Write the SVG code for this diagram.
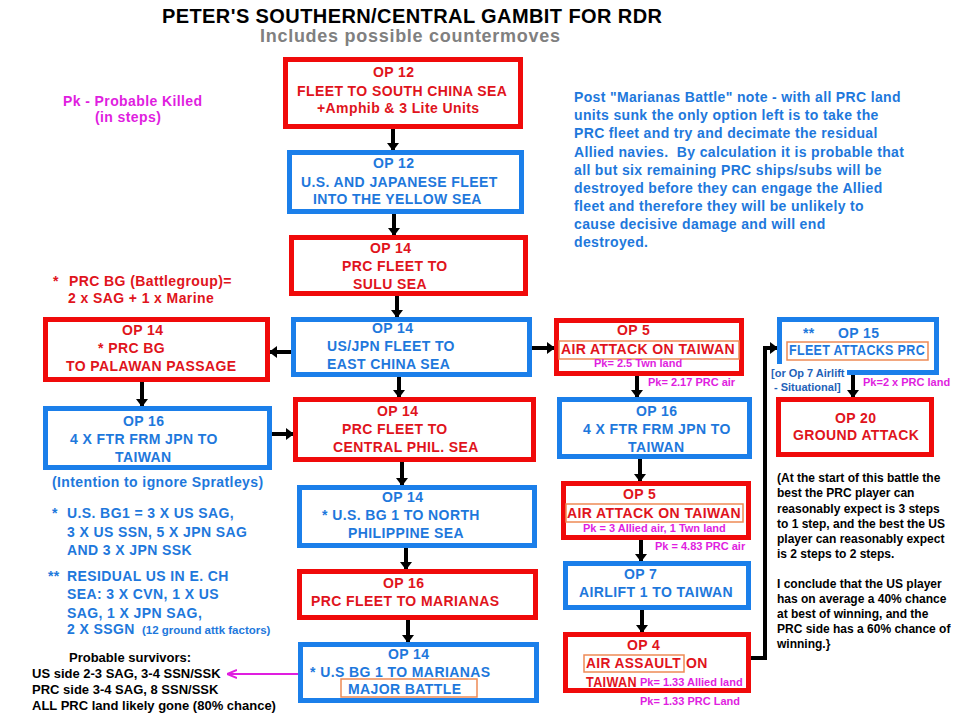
<svg xmlns="http://www.w3.org/2000/svg" width="962" height="724" viewBox="0 0 962 724">
<style>
text{font-family:"Liberation Sans",Arial,sans-serif;font-weight:bold}
.rb{fill:#fff;stroke:#f00a0a;stroke-width:5}
.bb{fill:#fff;stroke:#1b7fea;stroke-width:5}
.ob{fill:none;stroke:#ee8a55;stroke-width:1.5}
.r{fill:#e0141c;font-size:14px;letter-spacing:.4px}
.b{fill:#1e78dc;font-size:14px;letter-spacing:.4px}
.m{fill:#e01ee0;font-size:11px}
.k{fill:#000;font-size:12px}
.k13{fill:#000;font-size:13px}
.db{fill:#1f62b8;font-size:11px}
.bn{fill:#1e78dc;font-size:14px;letter-spacing:.35px}
.conn line,.conn polyline{stroke:#000;stroke-width:4;fill:none;marker-end:url(#ah)}
</style>
<defs>
<marker id="ah" viewBox="0 0 8 12" refX="7" refY="6" markerWidth="8" markerHeight="12" markerUnits="userSpaceOnUse" orient="auto">
<path d="M0,0 L8,6 L0,12 z" fill="#000"/>
</marker>
<marker id="mh" viewBox="0 0 10 10" refX="9" refY="5" markerWidth="10" markerHeight="10" markerUnits="userSpaceOnUse" orient="auto">
<path d="M0,1 L10,5 L0,9" fill="none" stroke="#e01ee0" stroke-width="2"/>
</marker>
</defs>
<rect width="962" height="724" fill="#fff"/>

<g id="title">
<text x="162" y="23" font-size="20" textLength="500" lengthAdjust="spacing" fill="#000">PETER'S SOUTHERN/CENTRAL GAMBIT FOR RDR</text>
<text x="260" y="42" font-size="18" textLength="300" lengthAdjust="spacing" fill="#808080">Includes possible countermoves</text>
</g>

<g id="note-pk">
<text x="63" y="106" fill="#e01ee0" font-size="14" letter-spacing=".4">Pk - Probable Killed</text>
<text x="95" y="122" fill="#e01ee0" font-size="14" letter-spacing=".4">(in steps)</text>
</g>

<g id="note-post">
<text class="bn" x="574" y="102">Post "Marianas Battle" note - with all PRC land</text>
<text class="bn" x="574" y="120">units sunk the only option left is to take the</text>
<text class="bn" x="574" y="138">PRC fleet and try and decimate the residual</text>
<text class="bn" x="574" y="157" xml:space="preserve">Allied navies.  By calculation it is probable that</text>
<text class="bn" x="574" y="175">all but six remaining PRC ships/subs will be</text>
<text class="bn" x="574" y="193">destroyed before they can engage the Allied</text>
<text class="bn" x="574" y="211">fleet and therefore they will be unlikely to</text>
<text class="bn" x="574" y="229">cause decisive damage and will end</text>
<text class="bn" x="574" y="247">destroyed.</text>
</g>

<g id="note-bg">
<text class="r" x="53" y="286">*</text>
<text class="r" x="69" y="286">PRC BG (Battlegroup)=</text>
<text class="r" x="68" y="303">2 x SAG + 1 x Marine</text>
</g>

<g id="note-us">
<text class="b" x="52" y="518">*</text>
<text class="b" x="67" y="518">U.S. BG1 = 3 X US SAG,</text>
<text class="b" x="67" y="537">3 X US SSN, 5 X JPN SAG</text>
<text class="b" x="67" y="555">AND 3 X JPN SSK</text>
<text class="b" x="48" y="581">**</text>
<text class="b" x="67" y="581">RESIDUAL US IN E. CH</text>
<text class="b" x="67" y="599">SEA: 3 X CVN, 1 X US</text>
<text class="b" x="67" y="618">SAG, 1 X JPN SAG,</text>
<text class="b" x="67" y="634">2 X SSGN</text>
<text x="142" y="634" fill="#1e78dc" font-size="11.5">(12 ground attk factors)</text>
</g>

<g id="note-survivors">
<text class="k13" x="69" y="662">Probable survivors:</text>
<text class="k13" x="32" y="678">US side 2-3 SAG, 3-4 SSN/SSK</text>
<text class="k13" x="32" y="694">PRC side 3-4 SAG, 8 SSN/SSK</text>
<text class="k13" x="32" y="710">ALL PRC land likely gone (80% chance)</text>
</g>

<g id="note-conclusion">
<text class="k" x="777" y="482">(At the start of this battle the</text>
<text class="k" x="777" y="497">best the PRC player can</text>
<text class="k" x="777" y="513">reasonably expect is 3 steps</text>
<text class="k" x="777" y="528">to 1 step, and the best the US</text>
<text class="k" x="777" y="543">player can reasonably expect</text>
<text class="k" x="777" y="558">is 2 steps to 2 steps.</text>
<text class="k" x="777" y="588">I conclude that the US player</text>
<text class="k" x="777" y="603">has on average a 40% chance</text>
<text class="k" x="777" y="618">at best of winning, and the</text>
<text class="k" x="777" y="633">PRC side has a 60% chance of</text>
<text class="k" x="777" y="648">winning.}</text>
</g>

<g class="conn" id="connectors">
<line x1="393" y1="129" x2="393" y2="150"/>
<line x1="394" y1="214" x2="394" y2="235"/>
<line x1="397" y1="296" x2="397" y2="317"/>
<line x1="399" y1="377" x2="399" y2="397"/>
<line x1="402" y1="462" x2="402" y2="485"/>
<line x1="406" y1="548" x2="406" y2="569"/>
<line x1="408" y1="620" x2="408" y2="642"/>
<line x1="291" y1="352" x2="270" y2="352"/>
<line x1="142" y1="382" x2="142" y2="406"/>
<line x1="272" y1="434" x2="293" y2="434"/>
<line x1="532" y1="348" x2="554" y2="348"/>
<line x1="637" y1="376" x2="637" y2="397"/>
<line x1="640" y1="459" x2="640" y2="481"/>
<line x1="641" y1="540" x2="641" y2="561"/>
<line x1="642" y1="610" x2="642" y2="632"/>
<polyline points="751,658 765,658 765,348 777,348"/>
<line x1="853" y1="375" x2="853" y2="397"/>
<line x1="298" y1="674" x2="228" y2="674" style="stroke:#e01ee0;stroke-width:2;marker-end:url(#mh)"/>
</g>

<g id="op12-fleet-scs">
<rect class="rb" x="285.5" y="59.5" width="235" height="67"/>
<text class="r" x="373" y="77">OP 12</text>
<text class="r" x="297" y="96">FLEET TO SOUTH CHINA SEA</text>
<text class="r" x="317" y="113">+Amphib &amp; 3 Lite Units</text>
</g>

<g id="op12-us-jpn">
<rect class="bb" x="289.5" y="152.5" width="232" height="59"/>
<text class="b" x="373" y="168">OP 12</text>
<text class="b" x="301" y="187">U.S. AND JAPANESE FLEET</text>
<text class="b" x="313" y="204">INTO THE YELLOW SEA</text>
</g>

<g id="op14-sulu">
<rect class="rb" x="291.5" y="237.5" width="234" height="56"/>
<text class="r" x="370" y="253">OP 14</text>
<text class="r" x="342" y="271">PRC FLEET TO</text>
<text class="r" x="353" y="289">SULU SEA</text>
</g>

<g id="op14-ecs">
<rect class="bb" x="293.5" y="319.5" width="236" height="55"/>
<text class="b" x="372" y="333">OP 14</text>
<text class="b" x="327" y="351">US/JPN FLEET TO</text>
<text class="b" x="327" y="369">EAST CHINA SEA</text>
</g>

<g id="op14-central-phil">
<rect class="rb" x="295.5" y="399.5" width="238" height="60"/>
<text class="r" x="377" y="416">OP 14</text>
<text class="r" x="342" y="434">PRC FLEET TO</text>
<text class="r" x="333" y="452">CENTRAL PHIL. SEA</text>
</g>

<g id="op14-north-phil">
<rect class="bb" x="299.5" y="487.5" width="235" height="58"/>
<text class="b" x="382" y="502">OP 14</text>
<text class="b" x="322" y="520">*  U.S. BG 1 TO NORTH</text>
<text class="b" x="348" y="538">PHILIPPINE SEA</text>
</g>

<g id="op16-marianas">
<rect class="rb" x="299.5" y="571.5" width="236" height="46"/>
<text class="r" x="383" y="588">OP 16</text>
<text class="r" x="311" y="606">PRC FLEET TO MARIANAS</text>
</g>

<g id="op14-marianas">
<rect class="bb" x="300.5" y="644.5" width="236" height="56"/>
<rect class="ob" x="341" y="679" width="136" height="18"/>
<text class="b" x="388" y="659">OP 14</text>
<text class="b" x="310" y="677">*  U.S BG 1 TO MARIANAS</text>
<text class="b" x="348" y="694">MAJOR BATTLE</text>
</g>

<g id="op14-palawan">
<rect class="rb" x="45.5" y="319.5" width="222" height="60"/>
<text class="r" x="122" y="335">OP 14</text>
<text class="r" x="98" y="353">*  PRC BG</text>
<text class="r" x="66" y="371">TO PALAWAN PASSAGE</text>
</g>

<g id="op16-ftr-left">
<rect class="bb" x="45.5" y="408.5" width="224" height="59"/>
<text class="b" x="123" y="426">OP 16</text>
<text class="b" x="70" y="444">4 X FTR FRM JPN TO</text>
<text class="b" x="115" y="462">TAIWAN</text>
<text class="b" x="52" y="487">(Intention to ignore Spratleys)</text>
</g>

<g id="op5-air-attack-1">
<rect class="rb" x="556.5" y="320.5" width="185" height="53"/>
<rect class="ob" x="559" y="341" width="180" height="18"/>
<text class="r" x="617" y="335">OP 5</text>
<text class="r" x="561" y="354" textLength="174" lengthAdjust="spacingAndGlyphs">AIR ATTACK ON TAIWAN</text>
<text class="m" x="594" y="367">Pk= 2.5 Twn land</text>
<text class="m" x="648" y="386">Pk= 2.17 PRC air</text>
</g>

<g id="op16-ftr-right">
<rect class="bb" x="559.5" y="399.5" width="190" height="57"/>
<text class="b" x="636" y="416">OP 16</text>
<text class="b" x="583" y="434">4 X FTR FRM JPN TO</text>
<text class="b" x="628" y="452">TAIWAN</text>
</g>

<g id="op5-air-attack-2">
<rect class="rb" x="563.5" y="483.5" width="185" height="54"/>
<rect class="ob" x="566" y="504" width="177" height="18"/>
<text class="r" x="623" y="499">OP 5</text>
<text class="r" x="567" y="518" textLength="174" lengthAdjust="spacingAndGlyphs">AIR ATTACK ON TAIWAN</text>
<text class="m" x="583" y="532">Pk = 3 Allied air, 1 Twn land</text>
<text class="m" x="655" y="550">Pk = 4.83 PRC air</text>
</g>

<g id="op7-airlift">
<rect class="bb" x="565.5" y="563.5" width="183" height="44"/>
<text class="b" x="624" y="579">OP 7</text>
<text class="b" x="579" y="597">AIRLIFT 1 TO TAIWAN</text>
</g>

<g id="op4-air-assault">
<rect class="rb" x="565.5" y="634.5" width="183" height="56"/>
<rect class="ob" x="584" y="655" width="100" height="17"/>
<text class="r" x="627" y="650">OP 4</text>
<text class="r" x="586" y="668" textLength="95" lengthAdjust="spacingAndGlyphs">AIR ASSAULT</text>
<text class="r" x="686" y="668">ON</text>
<text class="r" x="586" y="687" textLength="51" lengthAdjust="spacingAndGlyphs">TAIWAN</text>
<text class="m" x="640" y="686">Pk= 1.33 Allied land</text>
<text class="m" x="640" y="705">Pk= 1.33 PRC Land</text>
</g>

<g id="op15-fleet-attacks">
<rect class="bb" x="779.5" y="319.5" width="157" height="53"/>
<rect class="ob" x="787" y="342" width="141" height="18"/>
<text class="b" x="803" y="338">**</text>
<text class="b" x="838" y="338">OP 15</text>
<text class="b" x="789" y="355" textLength="136" lengthAdjust="spacingAndGlyphs">FLEET ATTACKS PRC</text>
<rect x="769" y="364" width="78" height="31" fill="#fff"/>
<text class="db" x="771" y="377">[or Op 7 Airlift</text>
<text class="db" x="774" y="391">- Situational]</text>
<text class="m" x="863" y="386">Pk=2 x PRC land</text>
</g>

<g id="op20-ground-attack">
<rect class="rb" x="778.5" y="399.5" width="153" height="55"/>
<text class="r" x="835" y="423">OP 20</text>
<text class="r" x="793" y="440">GROUND ATTACK</text>
</g>
</svg>
